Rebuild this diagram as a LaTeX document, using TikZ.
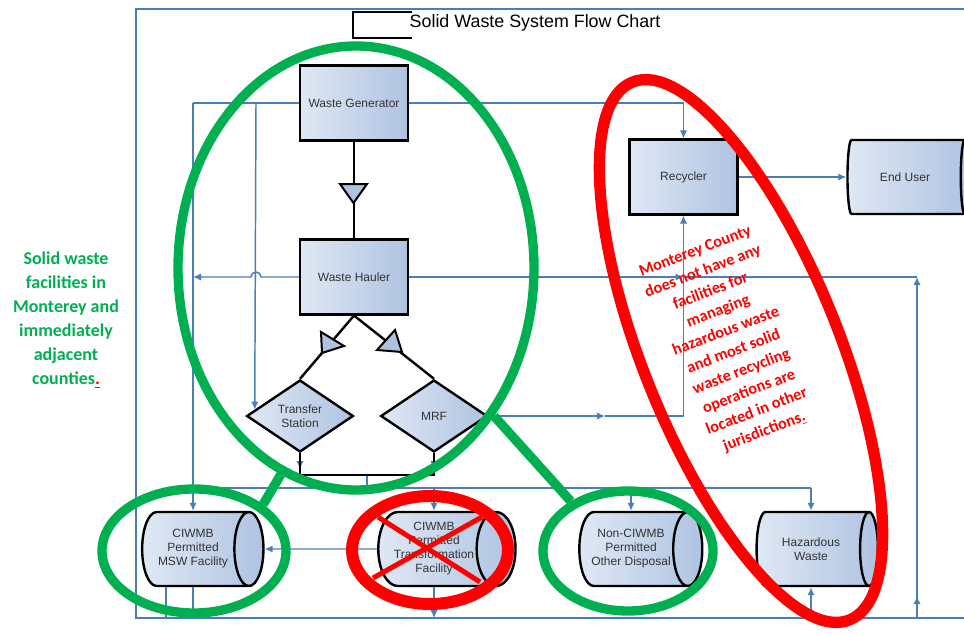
\documentclass[tikz,border=0pt]{standalone}
\usepackage{fontspec}
\setmainfont{Liberation Sans}
\newfontfamily\notefont{Carlito}
\usetikzlibrary{positioning,arrows.meta,calc,shapes.geometric}
\definecolor{swblue}{HTML}{4A7EBB}
\definecolor{swlight}{HTML}{DFE8F4}
\definecolor{swdark}{HTML}{AFC3E1}
\definecolor{swgreen}{HTML}{00B050}
\definecolor{swred}{HTML}{FF0000}
\definecolor{swtext}{HTML}{333333}
\tikzset{
  procbox/.style={draw=black, line width=1.8pt, left color=swlight, right color=swdark,
    align=center, font=\fontsize{9}{10.5}\selectfont, text=swtext,
    minimum width=81pt, minimum height=56pt, inner sep=2pt},
  gate/.style={procbox, diamond, minimum width=80pt, minimum height=54pt, inner sep=0pt},
  drum/.style={procbox, cylinder, shape aspect=0.7, minimum width=55.5pt,
    minimum height=91pt, inner sep=1pt},
  link/.style={-{Latex[length=6pt,width=5.5pt]}, line width=1.1pt, draw=swblue},
  wire/.style={line width=1.1pt, draw=swblue},
  feed/.style={line width=1.8pt, draw=black},
  valve/.style={draw=black, line width=1.5pt, fill=swdark, line join=miter},
  sysframe/.style={draw=swblue, line width=1.3pt},
  ring/.style={ellipse, draw=swgreen, line width=7pt, inner sep=0pt},
  ringlink/.style={draw=swgreen, line width=7pt},
  alarm/.style={ellipse, draw=swred, line width=8.5pt, inner sep=0pt},
  notegreen/.style={align=center, text=swgreen,
    font=\notefont\bfseries\fontsize{13.5}{18}\selectfont},
  notered/.style={align=center, text=swred,
    font=\notefont\bfseries\fontsize{12.2}{16.1}\selectfont},
}
\begin{document}
\begin{tikzpicture}[x=0.75pt, y=-0.75pt]
  \path[use as bounding box, fill=white] (0,0) rectangle (964,635);
  \draw[sysframe] (975,9) -- (136,9) -- (136,618) -- (975,618);

  % title block
  \node[anchor=west, font=\fontsize{13.4}{16}\selectfont] (title) at (405,23)
    {Solid Waste System Flow Chart};
  \draw[line width=1.5pt] ($(title.west)+(7,-11)$) -- ++(-59,0) -- ++(0,26) -- ++(59,0);

  % process units
  \node[procbox] (gen) at (354,103) {Waste Generator};
  \node[procbox] (haul) at (354,277) {Waste Hauler};
  \node[procbox] (recycler) at (683.5,177) {Recycler};
  \node[gate] (transfer) at (300,416) {Transfer\\Station};
  \node[gate] (mrf) at (434,416) {MRF};
  \node[drum] (enduser) at (905,177) {End User};
  \node[drum] (msw) at (193,549) {CIWMB\\Permitted\\MSW Facility};
  \node[drum] (transform) at (434,549) {CIWMB\\Permitted\\Transformation\\Facility};
  \node[drum] (other) at (631,549) {Non-CIWMB\\Permitted\\Other Disposal};
  \node[drum] (hazard) at (811,549) {Hazardous\\Waste};

  \coordinate (wl) at (193,103);
  \coordinate (wt) at (256,103);
  \coordinate (busl) at (193,488);
  \coordinate (tsfoot) at ($(transfer.south)+(0,22)$);
  \coordinate (mrffoot) at ($(mrf.south)+(0,22)$);
  \coordinate (mrfmid) at (605,416);
  \coordinate (base) at (136,618);
  \coordinate (rise) at (917,277);
  \coordinate (mswfoot) at (166,618);

  % blue flows
  \draw[wire] (gen.west) -- (wl);
  \draw[link] (wl) -- (wl |- msw.north);
  \draw[link] (wt) -- ($(transfer.west)!0.17!(transfer.north)$);
  \draw[link] (gen.east) -| (recycler.north);
  \draw[link] (haul.west) -- ($(wt |- haul.west)+(5,0)$)
    arc[start angle=0, end angle=180, radius=3.75pt] -- (wl |- haul.west);
  \draw[link] (haul.east) -- (haul.east -| recycler.south);
  \draw[wire] (haul.east -| recycler.south) -- (rise);
  \draw[link] (base -| rise) -- (rise);
  \draw[link] (base -| rise) -- ++(0,-22);
  \draw[link] (mrf.east) -- (mrfmid);
  \draw[link] (mrfmid) -| (recycler.south);
  \draw[link] (recycler) -- (enduser);
  \draw[link] (transfer.south) -- ++(0,16);
  \draw[link] (mrf.south) -- ++(0,16);
  \draw[wire] ($(tsfoot)!0.5!(mrffoot)$) -- ++(0,14);
  \draw[wire] (busl) -- (busl -| hazard.north);
  \draw[link] (busl -| transform.north) -- (transform.north);
  \draw[link] (busl -| other.north) -- (other.north);
  \draw[link] (busl -| hazard.north) -- (hazard.north);
  \draw[link] (transform) -- (msw);
  \draw[link] (transform.south) -- (transform.south |- base);
  \draw[wire] (wl |- msw.south) -- (wl |- base);
  \draw[wire] (mswfoot |- msw.south) -- (mswfoot);
  \draw[link] (base -| hazard.south) -- (hazard.south);

  % material flow
  \draw[feed] (gen) -- (haul);
  \draw[feed] (haul.south) -- (transfer.north);
  \draw[feed] (haul.south) -- (mrf.north);
  \draw[feed] (transfer.south) -- (tsfoot) -- (mrffoot) -- (mrf.south);
  \filldraw[valve] (340,184) -- (367,184) -- (353.5,203) -- cycle;
  \filldraw[valve] (321,332) -- (344,346) -- (322,353) -- cycle;
  \filldraw[valve] (395,330) -- (402,352) -- (377,350) -- cycle;

  % markup
  \node[ring, minimum width=267pt, minimum height=333pt] (core) at (356,268) {};
  \node[ring, minimum width=138pt, minimum height=93pt] (mswring) at (194,551) {};
  \node[ring, minimum width=127.5pt, minimum height=90pt] (otherring) at (628,551) {};
  \draw[ringlink] (core.-110) -- (mswring.34);
  \draw[ringlink] (core.-47) -- (otherring.139);
  \node[alarm, minimum width=147pt, minimum height=435pt, rotate=22] (redring) at (741,351) {};
  \node[alarm, line width=9pt, minimum width=117pt, minimum height=81pt] (xring) at (430,550) {};
  \draw[swred, line width=3.75pt] (378,517) -- (480,582);
  \draw[swred, line width=3.75pt] (482,517) -- (373,578);

  \node[notegreen] (gnote) at (66,320)
    {Solid waste\\facilities in\\Monterey and\\immediately\\adjacent\\counties{\color{swred}\underline{.}}};
  \node[notered, rotate=21] (rnote) at (730,342)
    {Monterey County\\does not have any\\facilities for\\managing\\hazardous waste\\and most solid\\waste recycling\\operations are\\located in other\\jurisdictions\underline{.}};
\end{tikzpicture}
\end{document}
